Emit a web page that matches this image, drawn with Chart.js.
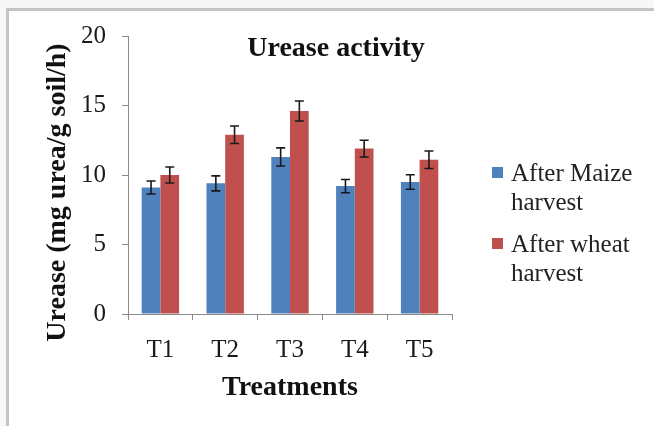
<!DOCTYPE html>
<html>
<head>
<meta charset="utf-8">
<script src="https://cdn.jsdelivr.net/npm/chart.js@4"></script>
<style>
    html, body { margin: 0; padding: 0; }
    body { width: 654px; height: 426px; overflow: hidden; background: #f7f7f7; position: relative; font-family: "Liberation Serif", "Times New Roman", serif; }
    .frame { position: absolute; left: 6px; top: 8px; width: 700px; height: 500px; background: #fff; border-left: 3px solid #c4c4c4; border-top: 3px solid #c4c4c4; }
    #chartWrap { position: absolute; left: 0; top: 0; width: 654px; height: 426px; }
    .title { position: absolute; left: 226px; top: 33px; width: 220px; text-align: center; font-weight: bold; font-size: 28px; line-height: 28px; color: #111; }
    #legend { position: absolute; left: 492px; top: 158px; }
    .legend-item { display: flex; align-items: flex-start; margin-bottom: 13px; }
    .legend-box { width: 11px; height: 11px; margin-top: 9px; margin-right: 8px; }
    .legend-text { width: 140px; font-size: 25px; line-height: 29px; color: #222; }
</style>
</head>
<body>
<div class="frame"></div>
<div id="chartWrap"><canvas id="ureaseChart" width="654" height="426"></canvas></div>
<div class="title">Urease activity</div>
<div id="legend"></div>

<script>
// Dados
const treatments = ['T1', 'T2', 'T3', 'T4', 'T5'];
const maizeValues = [9.1, 9.4, 11.3, 9.2, 9.5];
const wheatValues = [10.0, 12.9, 14.6, 11.9, 11.1];
const maizeErrors = [0.47, 0.54, 0.65, 0.48, 0.52];
const wheatErrors = [0.58, 0.63, 0.72, 0.6, 0.63];
const yTicks = [0, 5, 10, 15, 20];

const serif = '"Liberation Serif", "Times New Roman", serif';
const axisGray = '#8a8a8a';

// Barras de erro
const errorBars = {
    id: 'errorBars',
    afterDatasetsDraw(chart) {
        const ctx = chart.ctx;
        const yScale = chart.scales.y;
        chart.data.datasets.forEach((ds, i) => {
            const meta = chart.getDatasetMeta(i);
            meta.data.forEach((bar, j) => {
                const v = ds.data[j];
                const e = ds.errors[j];
                const top = yScale.getPixelForValue(v + e);
                const bottom = yScale.getPixelForValue(v - e);
                const x = bar.x;
                ctx.save();
                ctx.strokeStyle = '#1a1a1a';
                ctx.lineWidth = 1.6;
                ctx.beginPath();
                ctx.moveTo(x, top);
                ctx.lineTo(x, bottom);
                ctx.moveTo(x - 4.5, top);
                ctx.lineTo(x + 4.5, top);
                ctx.moveTo(x - 4.5, bottom);
                ctx.lineTo(x + 4.5, bottom);
                ctx.stroke();
                ctx.restore();
            });
        });
    }
};

// Legenda em HTML, gerada a partir dos datasets
const htmlLegend = {
    id: 'htmlLegend',
    afterUpdate(chart) {
        const box = document.getElementById('legend');
        box.innerHTML = '';
        chart.data.datasets.forEach(ds => {
            const item = document.createElement('div');
            item.className = 'legend-item';
            item.innerHTML = `<span class="legend-box" style="background:${ds.backgroundColor}"></span><span class="legend-text">${ds.label}</span>`;
            box.appendChild(item);
        });
    }
};

const ctx = document.getElementById('ureaseChart').getContext('2d');
new Chart(ctx, {
    type: 'bar',
    data: {
        labels: treatments,
        datasets: [
            {
                label: 'After Maize harvest',
                data: maizeValues,
                errors: maizeErrors,
                backgroundColor: '#4f81bd'
            },
            {
                label: 'After wheat harvest',
                data: wheatValues,
                errors: wheatErrors,
                backgroundColor: '#c0504d'
            }
        ]
    },
    options: {
        responsive: false,
        animation: false,
        layout: {
            padding: { left: 34, right: 202, top: 36, bottom: 17 }
        },
        datasets: {
            bar: { categoryPercentage: 0.577, barPercentage: 1.0 }
        },
        plugins: {
            legend: { display: false },
            title: { display: false },
            tooltip: { enabled: false }
        },
        scales: {
            x: {
                afterFit(scale) { scale.height = 95; },
                grid: { display: true, drawOnChartArea: false, color: axisGray, tickLength: 6, offset: true },
                border: { color: axisGray, width: 1 },
                ticks: { color: '#1a1a1a', padding: 15, font: { family: serif, size: 25 } },
                title: {
                    display: true,
                    text: 'Treatments',
                    color: '#111',
                    font: { family: serif, size: 28, weight: 'bold' },
                    padding: { top: 9, bottom: 4 }
                }
            },
            y: {
                min: 0,
                max: 20,
                afterFit(scale) { scale.width = 94; },
                afterBuildTicks(scale) {
                    scale.ticks = yTicks.map(v => ({ value: v }));
                },
                grid: { display: true, drawOnChartArea: false, color: axisGray, tickLength: 6 },
                border: { color: axisGray, width: 1 },
                ticks: { color: '#1a1a1a', padding: 16, font: { family: serif, size: 25 } },
                title: {
                    display: true,
                    text: 'Urease (mg urea/g soil/h)\u00a0\u00a0\u00a0\u00a0\u00a0',
                    color: '#111',
                    font: { family: serif, size: 28, weight: 'bold' },
                    padding: { top: 7, bottom: 8 }
                }
            }
        }
    },
    plugins: [errorBars, htmlLegend]
});
</script>
</body>
</html>
